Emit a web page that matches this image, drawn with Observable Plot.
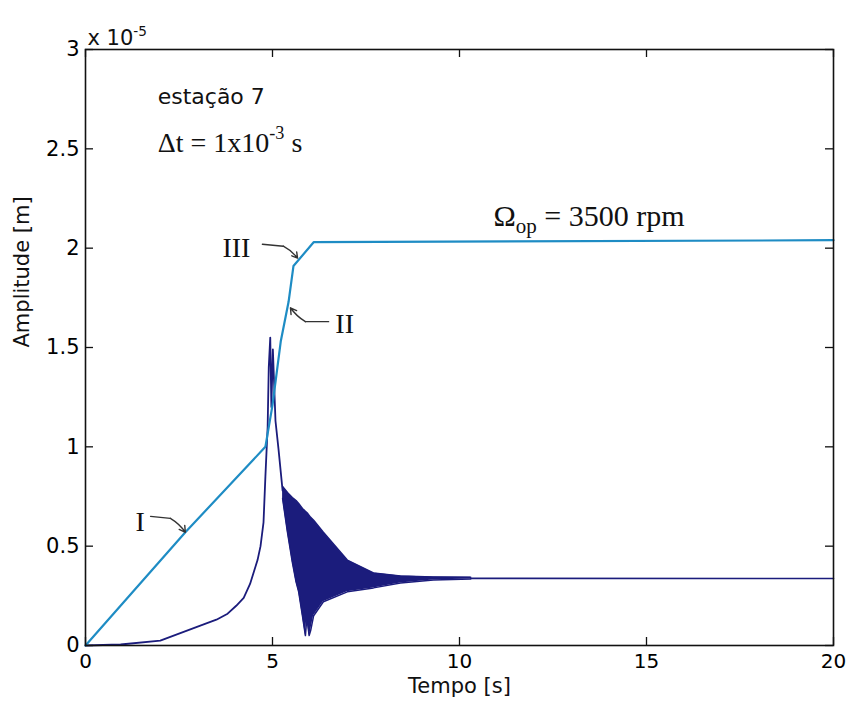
<!DOCTYPE html>
<html><head><meta charset="utf-8">
<script src="https://cdn.jsdelivr.net/npm/d3@7"></script>
<script src="https://cdn.jsdelivr.net/npm/@observablehq/plot@0.6"></script>
<style>body{margin:0;background:#fff}#chart{width:848px;height:710px}</style>
</head><body><div id="chart"></div>
<script>
// ---- axes ----
const xTicks = [0, 5, 10, 15, 20];
const yTicks = [0, 0.5, 1, 1.5, 2, 2.5, 3];
const yTickLabels = ["0", "0.5", "1", "1.5", "2", "2.5", "3"];

// ---- light-blue curve (envelope with acceleration), amplitude x 1e-5 m ----
const blueT = [0, 2.67, 4.76, 4.81, 5.0, 5.22, 5.43, 5.56, 6.1, 20];
const blueA = [0, 0.57, 0.99, 1.0, 1.21, 1.53, 1.73, 1.91, 2.03, 2.04];

// ---- navy curve, single-valued part (run-up through resonance) ----
const navyT = [0, 0.94, 2.0, 3.07, 3.5, 3.8, 4.03, 4.23, 4.4, 4.5, 4.6, 4.68, 4.76, 4.81, 4.87, 4.9, 4.94, 4.97, 5.01, 5.08, 5.16, 5.27];
const navyA = [0, 0.005, 0.025, 0.1, 0.13, 0.16, 0.2, 0.24, 0.31, 0.37, 0.43, 0.5, 0.62, 0.85, 1.1, 1.4, 1.55, 1.2, 1.49, 1.13, 0.99, 0.78];

// ---- navy curve, dense oscillation band (lower / upper envelope) ----
const bandT  = [5.27, 5.4, 5.53, 5.63, 5.7, 5.8, 5.88, 5.91, 5.94, 5.98, 6.02, 6.1, 6.36, 7.0, 7.7, 8.42, 9.3, 10.3];
const bandLo = [0.74, 0.57, 0.42, 0.32, 0.27, 0.15, 0.05, 0.12, 0.11, 0.05, 0.075, 0.15, 0.22, 0.27, 0.29, 0.315, 0.33, 0.335];
const bandHi = [0.80, 0.77, 0.745, 0.73, 0.715, 0.69, 0.675, 0.67, 0.665, 0.655, 0.645, 0.63, 0.57, 0.43, 0.365, 0.35, 0.345, 0.343];

// ---- navy tail (steady state) ----
const tailT = [10.3, 20];
const tailA = [0.338, 0.337];

// ---- annotations ----
const sansNotes = ["estação 7"];
const sansNoteT = [1.93];
const sansNoteA = [2.76];
const serifNotes = ["Δt = 1x10^{-3} s", "Ω_{op} = 3500 rpm"];
const serifNoteT = [1.93, 10.91];
const serifNoteA = [2.53, 2.16];
const serifNoteSize = [28, 30];
const romanNotes = ["III", "II", "I"];
const romanT = [3.66, 6.68, 1.34];
const romanA = [2.0, 1.62, 0.62];
// leader lines: [start, elbow, arrow tip]
const leaderT = [[4.73, 5.29, 5.67], [6.5, 5.88, 5.48], [1.74, 2.27, 2.67]];
const leaderA = [[2.02, 2.01, 1.95], [1.63, 1.63, 1.70], [0.65, 0.64, 0.57]];

const blueColor = "#1e8cc4";
const navyColor = "#1b1c7c";

const pts = (T, A) => T.map((t, i) => ({t, a: A[i]}));
const band = bandT.map((t, i) => ({t, lo: bandLo[i], hi: bandHi[i]}));
const leaderLines = leaderT.map((ts, k) => ts.slice(0, 2).map((t, i) => ({t, a: leaderA[k][i], k}))).flat();
const leaderArrows = leaderT.map((ts, k) => ({t1: ts[1], a1: leaderA[k][1], t2: ts[2], a2: leaderA[k][2]}));

const W = 848, H = 710, mL = 85, mR = 15, mT = 49, mB = 65;
const innerH = H - mT - mB;
const SANS = "DejaVu Sans";
const SERIF = "Liberation Serif";

const chart = Plot.plot({
  width: W, height: H,
  marginLeft: mL, marginRight: mR, marginTop: mT, marginBottom: mB,
  style: {fontFamily: SANS, background: "#fff", color: "#000"},
  x: {domain: [0, 20]},
  y: {domain: [0, 3]},
  marks: [
    // oscillation band
    Plot.areaY(band, {x: "t", y1: "lo", y2: "hi", fill: navyColor, curve: "linear"}),
    Plot.line(band, {x: "t", y: "lo", stroke: navyColor, strokeWidth: 1.5}),
    Plot.line(band, {x: "t", y: "hi", stroke: navyColor, strokeWidth: 1.5}),
    Plot.line(pts(navyT, navyA), {x: "t", y: "a", stroke: navyColor, strokeWidth: 1.8}),
    Plot.line(pts(tailT, tailA), {x: "t", y: "a", stroke: navyColor, strokeWidth: 1.6}),
    Plot.line(pts(blueT, blueA), {x: "t", y: "a", stroke: blueColor, strokeWidth: 2.2}),
    // frame and inward ticks
    Plot.frame({stroke: "#111", strokeWidth: 1.6}),
    Plot.tickX(xTicks, {x: d => d, insetTop: innerH - 8, stroke: "#111", strokeWidth: 1.3}),
    Plot.tickX(xTicks, {x: d => d, insetBottom: innerH - 8, stroke: "#111", strokeWidth: 1.3}),
    Plot.tickY(yTicks, {y: d => d, insetRight: (W - mL - mR) - 8, stroke: "#111", strokeWidth: 1.3}),
    Plot.tickY(yTicks, {y: d => d, insetLeft: (W - mL - mR) - 8, stroke: "#111", strokeWidth: 1.3}),
    // tick labels
    Plot.axisX({ticks: xTicks, tickSize: 0, tickPadding: 8, fontSize: 20, label: null}),
    Plot.axisY({ticks: yTicks, tickFormat: (d) => yTickLabels[yTicks.indexOf(d)], tickSize: 0, tickPadding: 6, fontSize: 21, label: null}),
    // axis labels
    Plot.text(["Tempo [s]"], {frameAnchor: "bottom", dy: 47, fontSize: 21, fill: "#111"}),
    Plot.text(["Amplitude [m]"], {frameAnchor: "left", dx: -63, rotate: -90, fontSize: 21, fill: "#111"}),
    Plot.text(["x 10^{-5}"], {frameAnchor: "top-left", dx: 2, dy: -19, textAnchor: "start", fontSize: 21, fill: "#111"}),
    // annotations
    Plot.text(sansNotes, {x: (d, i) => sansNoteT[i], y: (d, i) => sansNoteA[i], text: d => d, textAnchor: "start", fontSize: 22, fill: "#111"}),
    Plot.text(serifNotes.slice(0, 1), {x: serifNoteT[0], y: serifNoteA[0], text: d => d, textAnchor: "start", fontFamily: SERIF, fontSize: serifNoteSize[0], fill: "#111"}),
    Plot.text(serifNotes.slice(1, 2), {x: serifNoteT[1], y: serifNoteA[1], text: d => d, textAnchor: "start", fontFamily: SERIF, fontSize: serifNoteSize[1], fill: "#111"}),
    Plot.text(romanNotes, {x: (d, i) => romanT[i], y: (d, i) => romanA[i], text: d => d, textAnchor: "start", fontFamily: SERIF, fontSize: 28, fill: "#111"}),
    Plot.line(leaderLines, {x: "t", y: "a", z: "k", stroke: "#333", strokeWidth: 1.4}),
    Plot.arrow(leaderArrows, {x1: "t1", y1: "a1", x2: "t2", y2: "a2", stroke: "#333", strokeWidth: 1.4, headLength: 9, bend: 12})
  ]
});

document.getElementById("chart").appendChild(chart);

// render ^{...} and _{...} as superscript / subscript tspans
function richify(svg) {
  svg.querySelectorAll("text").forEach(el => {
    const s = el.textContent;
    if (!/[\^_]\{/.test(s)) return;
    const fs = parseFloat(getComputedStyle(el).fontSize) || 20;
    while (el.firstChild) el.removeChild(el.firstChild);
    const NS = "http://www.w3.org/2000/svg";
    let off = 0;
    const add = (txt, target, size) => {
      const ts = document.createElementNS(NS, "tspan");
      ts.textContent = txt;
      const dy = target - off;
      if (dy !== 0) ts.setAttribute("dy", dy);
      if (size) ts.setAttribute("font-size", size);
      off = target;
      el.appendChild(ts);
    };
    const re = /([\^_])\{([^}]*)\}/g;
    let last = 0, m;
    while ((m = re.exec(s))) {
      if (m.index > last) add(s.slice(last, m.index), 0);
      if (m[1] === "^") add(m[2], -0.45 * fs, 0.65 * fs);
      else add(m[2], 0.22 * fs, 0.7 * fs);
      last = re.lastIndex;
    }
    if (last < s.length) add(s.slice(last), 0);
  });
}
richify(chart);
</script>
</body></html>
